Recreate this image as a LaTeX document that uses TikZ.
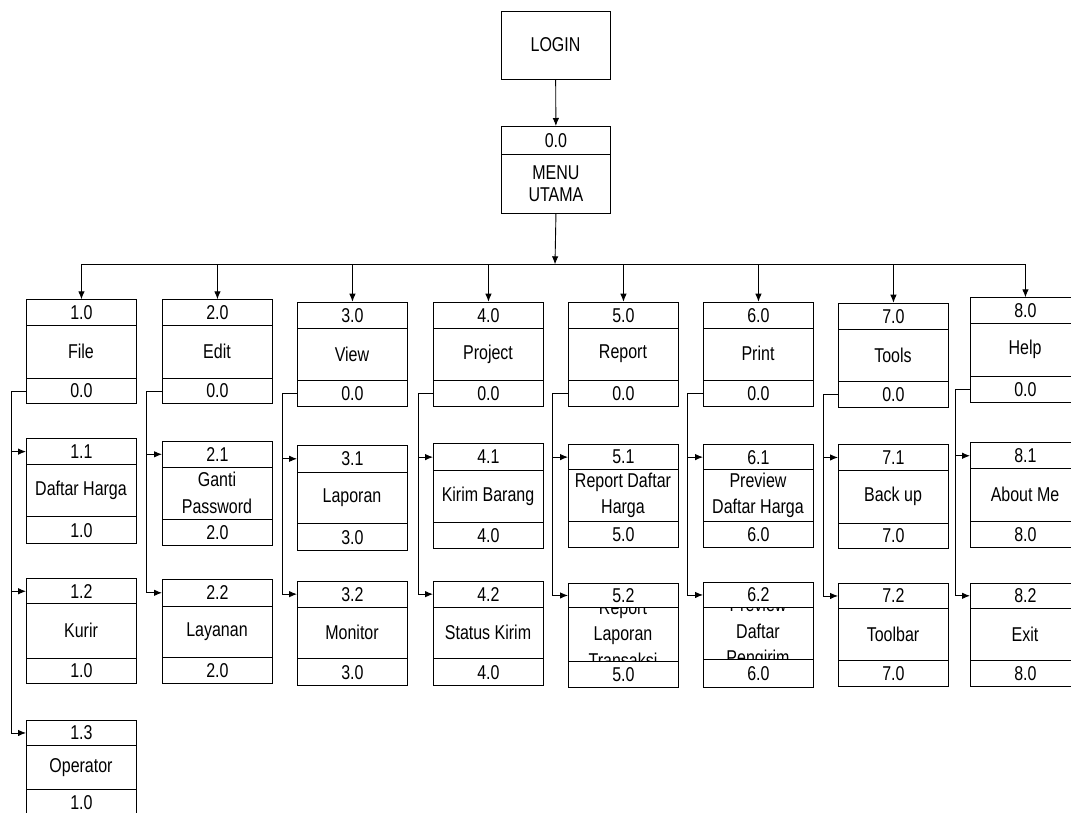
\documentclass[tikz,border=0pt]{standalone}
\usepackage{fontspec}
\setmainfont[FakeStretch=0.8]{Liberation Sans}
\usetikzlibrary{arrows.meta}
\tikzset{
 cell/.style={draw, line width=0.9pt, minimum width=110pt, inner sep=0pt, anchor=north west, font=\fontsize{20}{24}\selectfont},
 midcell/.style={cell},
 endcell/.style={cell, fill=white, text depth=0pt},
 bodytxt/.style={align=center, inner sep=0pt, font=\fontsize{20}{26.5}\selectfont},
 arr/.style={line width=0.9pt, -{Latex[length=8pt,width=6.5pt]}},
 ln/.style={line width=0.9pt},
}
% #1 name, #2 left x, #3 top, #4 divider 1, #5 divider 2, #6 bottom, #7 header, #8 body, #9 footer
\newcommand\hipo[9]{%
  \node[midcell, minimum height={#5-#4}] (#1m) at (#2,#4) {};
  \node[bodytxt] (#1b) at ({#2+55},{(#4+#5)/2}) {#8};
  \node[endcell, minimum height={#4-#3}] (#1h) at (#2,#3) {#7};
  \node[endcell, minimum height={#6-#5}] (#1f) at (#2,#5) {#9};
}
\begin{document}
\begin{tikzpicture}[x=1pt,y=-1pt]
\clip (0,0) rectangle (1071,812);
\fill[white] (0,0) rectangle (1071,812);

% top
\node[cell, anchor=center, minimum width=109pt, minimum height=68pt] (login) at (555.5,45) {LOGIN};
\node[endcell, minimum width=109pt, minimum height=28pt] (menuh) at (501,126) {0.0};
\node[cell, minimum width=109pt, minimum height=59pt, align=center, font=\fontsize{20}{22}\selectfont] (menub) at (501,154) {MENU\\UTAMA};
\draw[arr] (login) -- (menuh);
\coordinate (bus) at (555,264.3);
\draw[arr] (menub.south) -- (bus);

% column 1
\hipo{n10}{26}{299.3}{325}{377.7}{403.3}{1.0}{File}{0.0}
\hipo{n11}{26}{438.3}{464}{516}{543.3}{1.1}{Daftar Harga}{1.0}
\hipo{n12}{26}{578.3}{603.3}{657.7}{682.7}{1.2}{Kurir}{1.0}
\hipo{n13}{26}{720}{745}{789.3}{815}{1.3}{Operator}{1.0}
% column 2
\hipo{n20}{162}{299.3}{325}{377.7}{403.3}{2.0}{Edit}{0.0}
\hipo{n21}{162}{441}{466.7}{519.3}{545}{2.1}{Ganti\\Password}{2.0}
\hipo{n22}{162}{579}{605.7}{657.3}{683.3}{2.2}{Layanan}{2.0}
% column 3
\hipo{n30}{297}{301.7}{327.7}{380}{406}{3.0}{View}{0.0}
\hipo{n31}{297}{445}{471.7}{523.3}{550}{3.1}{Laporan}{3.0}
\hipo{n32}{297}{580.7}{606.7}{658.3}{685}{3.2}{Monitor}{3.0}
% column 4
\hipo{n40}{433}{301.7}{327.7}{380}{406}{4.0}{Project}{0.0}
\hipo{n41}{433}{443.3}{470}{521.7}{547.7}{4.1}{Kirim Barang}{4.0}
\hipo{n42}{433}{580.7}{606.7}{658.3}{685}{4.2}{Status Kirim}{4.0}
% column 5
\hipo{n50}{568}{301.7}{327.7}{379.7}{406}{5.0}{Report}{0.0}
\hipo{n51}{568}{444}{469.3}{521}{546.7}{5.1}{Report Daftar\\Harga}{5.0}
\hipo{n52}{568}{582.7}{607.3}{661}{686.7}{5.2}{Report\\Laporan\\Transaksi}{5.0}
% column 6
\hipo{n60}{703}{301.7}{327.7}{379.7}{406}{6.0}{Print}{0.0}
\hipo{n61}{703}{444}{469.3}{521}{546.7}{6.1}{Preview\\Daftar Harga}{6.0}
\hipo{n62}{703}{581.7}{607.3}{659.3}{686.7}{6.2}{Preview\\Daftar\\Pengirim}{6.0}
% column 7
\hipo{n70}{838}{302.7}{328.7}{381}{407.3}{7.0}{Tools}{0.0}
\hipo{n71}{838}{444}{470}{522.7}{548.3}{7.1}{Back up}{7.0}
\hipo{n72}{838}{582.7}{608.3}{660}{686}{7.2}{Toolbar}{7.0}
% column 8
\hipo{n80}{970}{297.3}{322.7}{376}{402}{8.0}{Help}{0.0}
\hipo{n81}{970}{442.3}{468.3}{521}{546.7}{8.1}{About Me}{8.0}
\hipo{n82}{970}{582.7}{608}{660}{686}{8.2}{Exit}{8.0}

% bus
\draw[ln] (n10h.north |- bus) -- (n80h.north |- bus);
\foreach \c in {n10,n20,n30,n40,n50,n60,n70,n80}
  \draw[arr] (\c h.north |- bus) -- (\c h.north);

% branches
\foreach \s in {n11,n12,n13} \draw[arr] (n10f.west) -- ++(-14.3,0) |- (\s h.west);
\foreach \s in {n21,n22} \draw[arr] (n20f.west) -- ++(-16,0) |- (\s h.west);
\foreach \s in {n31,n32} \draw[arr] (n30f.west) -- ++(-14.7,0) |- (\s h.west);
\foreach \s in {n41,n42} \draw[arr] (n40f.west) -- ++(-14.7,0) |- (\s h.west);
\foreach \s in {n51,n52} \draw[arr] (n50f.west) -- ++(-15.3,0) |- (\s h.west);
\foreach \s in {n61,n62} \draw[arr] (n60f.west) -- ++(-15.3,0) |- (\s h.west);
\foreach \s in {n71,n72} \draw[arr] (n70f.west) -- ++(-14.7,0) |- (\s h.west);
\foreach \s in {n81,n82} \draw[arr] (n80f.west) -- ++(-15,0) |- (\s h.west);
\end{tikzpicture}
\end{document}
